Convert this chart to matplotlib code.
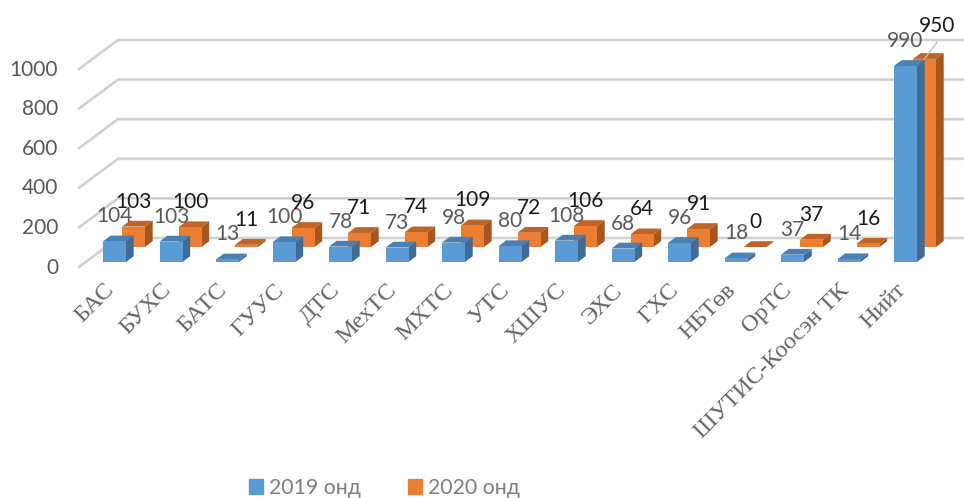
import matplotlib
matplotlib.use("Agg")
import matplotlib.pyplot as plt
from matplotlib.patches import Patch
from matplotlib.transforms import ScaledTranslation

plt.rcParams['font.family'] = ['Lato', 'DejaVu Sans']

categories = ["БАС", "БУХС", "БАТС", "ГУУС", "ДТС", "МехТС", "МХТС", "УТС", "ХШУС",
              "ЭХС", "ГХС", "НБТөв", "ОрТС", "ШУТИС-Коосэн ТК", "Нийт"]
values_2019 = [104, 103, 13, 100, 78, 73, 98, 80, 108, 68, 96, 18, 37, 14, 990]
values_2020 = [103, 100, 11, 96, 71, 74, 109, 72, 106, 64, 91, 0, 37, 16, 950]
y_ticks = [0, 200, 400, 600, 800, 1000]

# pixel sizes of the fake 3d look
PX_CAT = 56.5
PX_VAL = 0.198
BAR_W = 23 / PX_CAT
DEPTH_X = 7.7 / PX_CAT
DEPTH_Y = 5.8 / PX_VAL
SERIES_X = 19 / PX_CAT
SERIES_Y = 15 / PX_VAL

fig = plt.figure(figsize=(9.64, 4.98), dpi=100)
ax = fig.add_axes([65 / 964, (498 - 262) / 498, (964 - 65) / 964, 262 / 498])
ax.set_xlim((65 - 114.5) / PX_CAT, (964 - 114.5) / PX_CAT)
ax.set_ylim(0, 262 / PX_VAL)
for s in ax.spines.values():
    s.set_visible(False)
ax.patch.set_alpha(0)

# walls: back line plus the diagonal on the left side
x_front = (79 - 114.5) / PX_CAT
x_back = (118 - 114.5) / PX_CAT
x_end = (964 - 114.5) / PX_CAT
for v in y_ticks:
    y_f = v - 5 / PX_VAL
    y_b = v + 24 / PX_VAL
    ax.plot([x_front, x_back, x_end], [y_f, y_b, y_b], color="#dadada", lw=2.0,
            clip_on=False, zorder=1, solid_joinstyle="miter")
    ax.plot([x_front, x_back, x_end], [y_f, y_b, y_b], color="#cccccc", lw=0.8,
            clip_on=False, zorder=1, solid_joinstyle="miter")


def draw_series(values, shift_x, shift_y, front, side, top, z):
    xs = [i - BAR_W / 2 + shift_x for i in range(len(values))]
    ax.bar(xs, values, width=BAR_W, bottom=shift_y, align="edge", color=front, zorder=z + 2)
    for x, v in zip(xs, values):
        y = shift_y + v
        ax.fill([x, x + DEPTH_X, x + BAR_W + DEPTH_X, x + BAR_W],
                [y, y + DEPTH_Y, y + DEPTH_Y, y], color=top, lw=0, zorder=z + 1, clip_on=False)
        ax.fill([x + BAR_W, x + BAR_W + DEPTH_X, x + BAR_W + DEPTH_X, x + BAR_W],
                [shift_y, shift_y + DEPTH_Y, y + DEPTH_Y, y], color=side, lw=0, zorder=z + 1,
                clip_on=False)


draw_series(values_2020, SERIES_X, SERIES_Y, "#ed7d31", "#a5571f", "#bf6426", 2)
draw_series(values_2019, 0, 0, "#5b9bd5", "#3f6c96", "#4a80b2", 6)

# data labels
for i, v in enumerate(values_2019):
    ax.annotate(str(v), (i, v), xytext=(0, 18), textcoords="offset points", ha="center",
                va="center", fontsize=15, color="#595959", zorder=12, annotation_clip=False)
for i, v in enumerate(values_2020):
    x = i + SERIES_X
    y = v + SERIES_Y
    if i == len(values_2020) - 1:
        ax.annotate(str(v), (x, y), xytext=(9, 24), textcoords="offset points", ha="center",
                    va="center", fontsize=15, color="#1a1a1a", zorder=12, annotation_clip=False)
        ax.annotate("", (x, y), xytext=(9, 12), textcoords="offset points", zorder=11,
                    annotation_clip=False, arrowprops=dict(arrowstyle="-", color="#bfbfbf", lw=1,
                                                           shrinkA=0, shrinkB=0))
    else:
        ax.annotate(str(v), (x, y), xytext=(0, 18), textcoords="offset points", ha="center",
                    va="center", fontsize=15, color="#1a1a1a", zorder=12, annotation_clip=False)

ax.set_yticks(y_ticks)
ax.set_xticks(range(len(categories)))
ax.set_xticklabels(categories, rotation=45, ha="right", rotation_mode="anchor", va="top",
                   family="Liberation Serif", fontsize=17.5, color="#666666")
ax.tick_params(axis="x", length=0, pad=12)
ax.tick_params(axis="y", length=0, pad=5, labelsize=15, labelcolor="#595959")

# nudge tick labels to where the original sits
shift_x = ScaledTranslation(-11 / 100, -1 / 100, fig.dpi_scale_trans)
for lab in ax.get_xticklabels():
    lab.set_transform(lab.get_transform() + shift_x)
shift_y = ScaledTranslation(0, -3.5 / 100, fig.dpi_scale_trans)
for lab in ax.get_yticklabels():
    lab.set_transform(lab.get_transform() + shift_y)

handles = [Patch(color="#5b9bd5", label="2019 онд"), Patch(color="#ed7d31", label="2020 онд")]
fig.legend(handles=handles, loc="lower left", bbox_to_anchor=(249 / 964, 0 / 498), ncol=2, frameon=False,
           fontsize=15.3, labelcolor="#7f7f7f", handlelength=0.66, handleheight=0.66,
           handletextpad=0.28, columnspacing=2.2, borderpad=0, borderaxespad=0)

fig.savefig("out.png", dpi=100)
